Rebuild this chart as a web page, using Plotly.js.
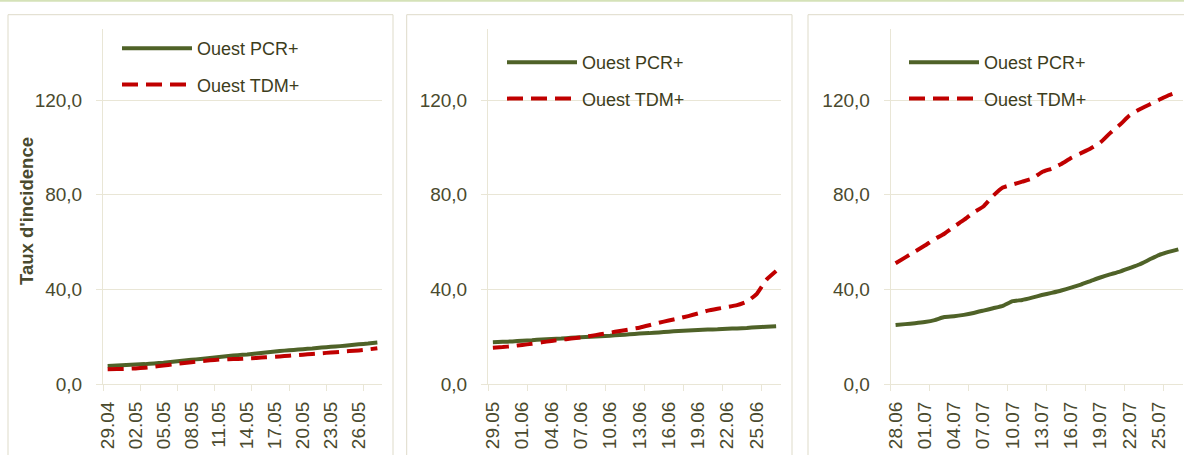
<!DOCTYPE html>
<html>
<head>
<meta charset="utf-8">
<script src="https://cdn.plot.ly/plotly-3.0.1.min.js"></script>
<style>
html,body{margin:0;padding:0;background:#fff;}
#chart{width:1184px;height:455px;}
</style>
</head>
<body>
<div id="chart"></div>
<script>
// ---- data ----
const dates1 = ['29.04','30.04','01.05','02.05','03.05','04.05','05.05','06.05','07.05','08.05','09.05','10.05','11.05','12.05','13.05','14.05','15.05','16.05','17.05','18.05','19.05','20.05','21.05','22.05','23.05','24.05','25.05','26.05','27.05','28.05'];
const dates2 = ['29.05','30.05','31.05','01.06','02.06','03.06','04.06','05.06','06.06','07.06','08.06','09.06','10.06','11.06','12.06','13.06','14.06','15.06','16.06','17.06','18.06','19.06','20.06','21.06','22.06','23.06','24.06','25.06','26.06','27.06'];
const dates3 = ['28.06','29.06','30.06','01.07','02.07','03.07','04.07','05.07','06.07','07.07','08.07','09.07','10.07','11.07','12.07','13.07','14.07','15.07','16.07','17.07','18.07','19.07','20.07','21.07','22.07','23.07','24.07','25.07','26.07','27.07'];

const pcr1 = [7.6,7.8,8.0,8.2,8.4,8.7,9.0,9.4,9.8,10.2,10.6,11.0,11.4,11.8,12.2,12.5,12.9,13.3,13.7,14.1,14.4,14.7,15.0,15.4,15.7,16.0,16.4,16.8,17.1,17.5];
const tdm1 = [6.2,6.3,6.4,6.6,6.9,7.3,7.8,8.3,8.8,9.2,9.6,10.0,10.3,10.5,10.6,10.8,11.0,11.3,11.5,11.8,12.1,12.4,12.7,13.0,13.3,13.6,13.9,14.2,14.6,15.1];
const pcr2 = [17.6,17.8,18.0,18.3,18.5,18.8,19.0,19.2,19.5,19.8,20.0,20.2,20.4,20.7,21.0,21.3,21.5,21.8,22.1,22.4,22.6,22.8,23.0,23.1,23.3,23.5,23.7,24.0,24.2,24.4];
const tdm2 = [15.3,15.6,16.0,16.5,17.0,17.6,18.2,18.7,19.2,19.7,20.3,21.0,21.7,22.4,23.1,23.8,24.8,25.9,26.8,27.7,28.7,29.8,31.0,31.8,32.5,33.3,34.8,38.0,44.0,47.7];
const pcr3 = [24.9,25.3,25.7,26.2,27.0,28.3,28.6,29.2,30.0,31.0,32.0,33.0,35.0,35.5,36.5,37.6,38.5,39.5,40.7,42.0,43.5,45.0,46.3,47.5,49.0,50.5,52.5,54.5,55.8,56.9];
const tdm3 = [51.0,53.5,56.0,58.5,61.2,63.5,66.5,69.3,72.5,75.0,79.5,83.0,84.3,85.5,86.8,89.5,91.0,93.0,95.5,97.5,99.5,102.0,106.0,109.5,113.5,116.0,118.0,120.0,122.0,123.5];

const seriesNames = ['Ouest PCR+','Ouest TDM+'];
const yTitle = "Taux d'incidence";

// ---- styling ----
const W = 1184, H = 455;
const FONT = 'Liberation Sans, Arial, sans-serif';
const TXT = '#4a4a2e';
const GRID = '#e9e6d6';
const GREEN = '#4f6228';
const RED = '#c00000';

const panels = [
  {dates: dates1, pcr: pcr1, tdm: tdm1, px: [103, 382], legTop: 30, legX: 117},
  {dates: dates2, pcr: pcr2, tdm: tdm2, px: [488, 781], legTop: 44, legX: 502},
  {dates: dates3, pcr: pcr3, tdm: tdm3, px: [890.7, 1183.2], legTop: 44, legX: 904}
];

const data = [];
const layout = {
  width: W, height: H,
  margin: {l:0, r:0, t:0, b:0},
  paper_bgcolor: '#ffffff',
  plot_bgcolor: 'rgba(0,0,0,0)',
  separators: ', ',
  showlegend: true,
  font: {family: FONT, color: TXT, size: 18},
  shapes: [],
  annotations: []
};

const yDom = [71/H, 426/H];

panels.forEach((p, k) => {
  const n = k + 1;
  const sx = n === 1 ? '' : String(n);
  const idx = p.dates.map((_, i) => i);
  const legName = n === 1 ? 'legend' : 'legend' + n;
  data.push({
    x: idx, y: p.pcr, name: seriesNames[0], type: 'scatter', mode: 'lines',
    xaxis: 'x' + sx, yaxis: 'y' + sx, legend: legName, legendgroup: 'a' + n,
    line: {color: GREEN, width: 4, shape: 'spline', smoothing: 0.4},
    hoverinfo: 'skip'
  });
  data.push({
    x: idx, y: p.tdm, name: seriesNames[1], type: 'scatter', mode: 'lines',
    xaxis: 'x' + sx, yaxis: 'y' + sx, legend: legName, legendgroup: 'b' + n,
    line: {color: RED, width: 4, dash: '16px,8px', shape: 'spline', smoothing: 0.4},
    hoverinfo: 'skip'
  });
  const labVals = idx.filter(i => i % 3 === 0);
  const tickB = [];
  for (let b = -0.5; b <= 30; b += 4) tickB.push(b);
  layout['xaxis' + sx] = {
    domain: [p.px[0]/W, p.px[1]/W],
    anchor: 'y' + sx,
    range: [-0.5, idx.length - 0.5],
    tickmode: 'array',
    tickvals: labVals,
    ticktext: labVals.map(i => p.dates[i]),
    tickangle: -90,
    ticks: '',
    ticklabelstandoff: 9,
    tickfont: {family: FONT, size: 19, color: TXT},
    showgrid: false,
    zeroline: false,
    showline: true, linecolor: GRID, linewidth: 1,
    minor: {tickmode: 'array', tickvals: tickB, ticks: 'outside', ticklen: 6, tickcolor: GRID, tickwidth: 1, showgrid: false},
    fixedrange: true
  };
  layout['yaxis' + sx] = {
    domain: yDom,
    anchor: 'x' + sx,
    range: [0, 150],
    tickmode: 'linear', tick0: 0, dtick: 40,
    tickformat: '.1f',
    ticks: 'outside', ticklen: 6, tickcolor: GRID,
    ticklabelstandoff: 10,
    tickfont: {family: FONT, size: 19, color: TXT},
    showgrid: true, gridcolor: GRID, gridwidth: 1,
    zeroline: false,
    showline: true, linecolor: GRID, linewidth: 1,
    fixedrange: true
  };
  layout[legName] = {
    x: p.legX/W, y: (H - p.legTop)/H, xanchor: 'left', yanchor: 'top',
    bgcolor: 'rgba(0,0,0,0)', borderwidth: 0,
    font: {family: FONT, size: 18, color: '#3d3d1c'},
    itemwidth: 70, tracegroupgap: 10, traceorder: 'grouped'
  };
});

// panel frames
[[8, 393], [406.7, 792], [808, 1200]].forEach(b => {
  layout.shapes.push({type: 'rect', xref: 'paper', yref: 'paper',
    x0: b[0]/W, x1: b[1]/W, y0: -0.05, y1: (H - 14.7)/H,
    line: {color: '#dedbc9', width: 1}, layer: 'below'});
});
layout.shapes.push({type: 'line', xref: 'paper', yref: 'paper', x0: 0, x1: 1, y0: (H - 0.8)/H, y1: (H - 0.8)/H,
  line: {color: '#d5e2b8', width: 2}});

layout.annotations.push({
  text: '<b>' + yTitle + '</b>', xref: 'paper', yref: 'paper',
  x: 26/W, y: (H - 211)/H, textangle: -90, showarrow: false,
  font: {family: FONT, size: 18.5, color: TXT}, xanchor: 'center', yanchor: 'middle'
});

Plotly.newPlot('chart', data, layout, {staticPlot: true, displayModeBar: false});
</script>
</body>
</html>
